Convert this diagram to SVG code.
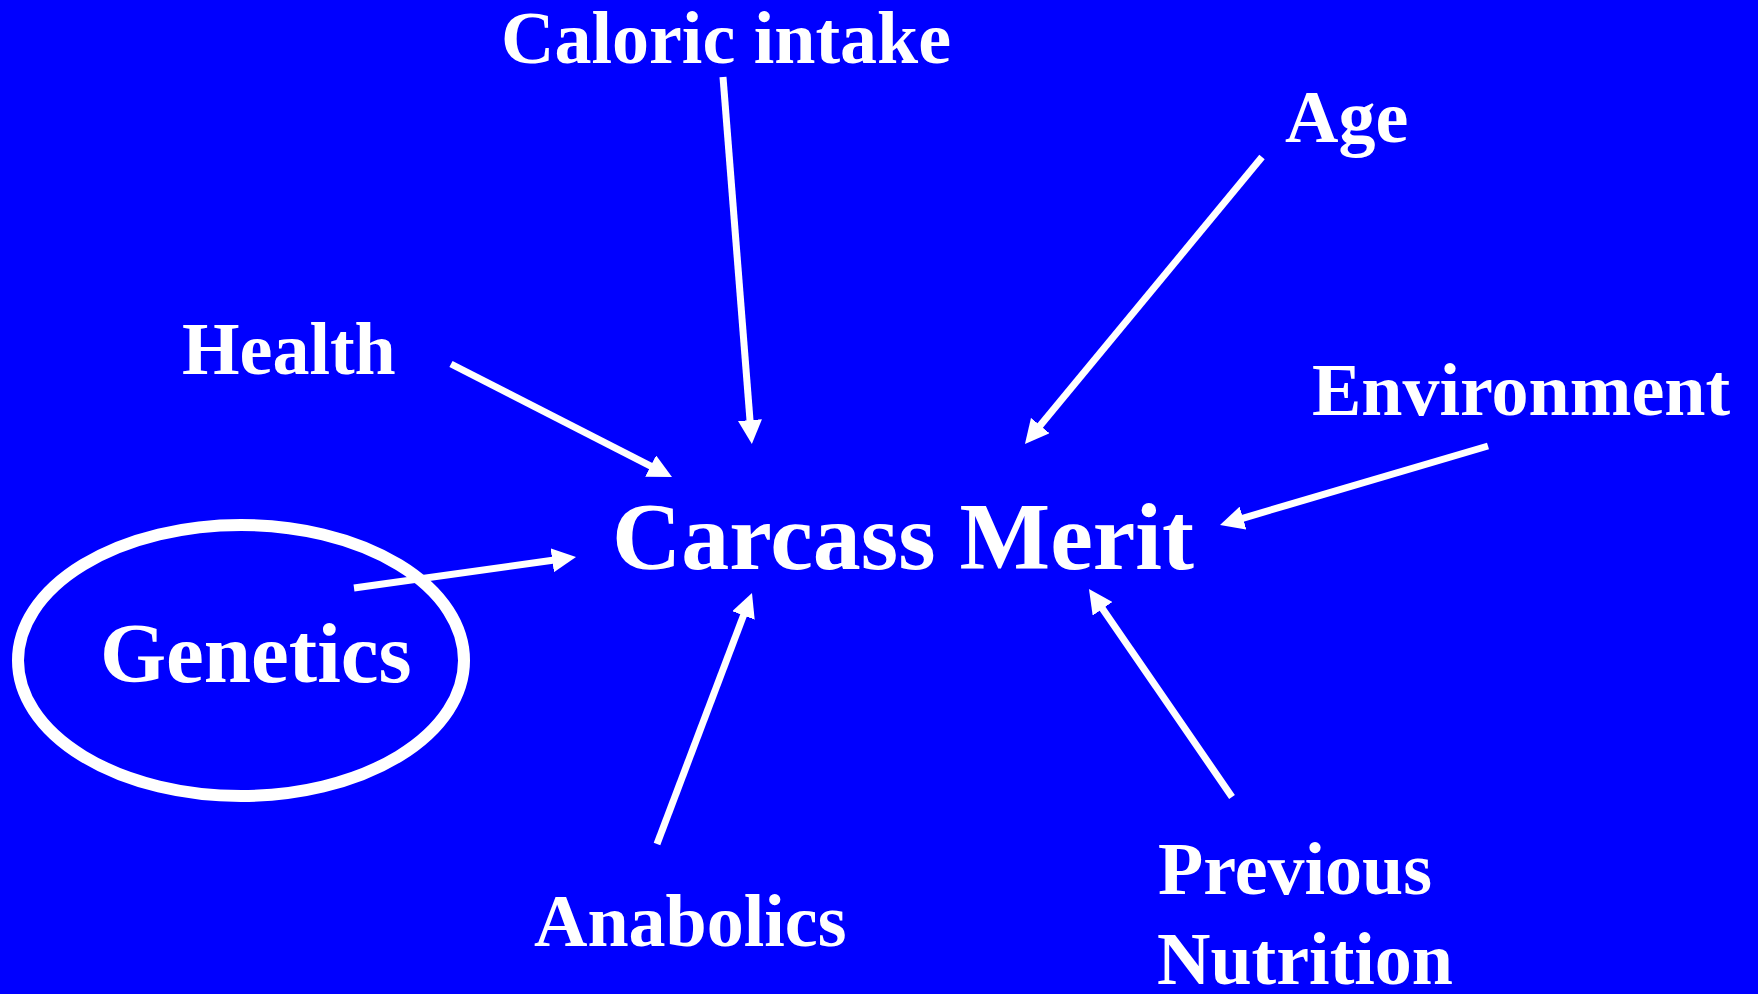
<svg xmlns="http://www.w3.org/2000/svg" width="1758" height="994" viewBox="0 0 1758 994">
<style>
.t{font-family:"Liberation Serif","Times New Roman",serif;font-weight:bold;fill:#fff}
.l{font-size:74px}
.c{stroke:#fff;stroke-width:7;fill:none;marker-end:url(#ah)}
</style>
<defs>
<marker id="ah" markerWidth="24" markerHeight="24" refX="4" refY="12" orient="auto" markerUnits="userSpaceOnUse"><path d="M0,0 L24,12 L0,24 z" fill="#fff"/></marker>
</defs>
<rect x="0" y="0" width="1758" height="994" fill="#0000FF"/>
<g id="connectors">
<line class="c" x1="723" y1="77" x2="750.3" y2="424.1"/>
<line class="c" x1="1262" y1="157" x2="1037.7" y2="428.6"/>
<line class="c" x1="451" y1="364" x2="654.2" y2="467.9"/>
<line class="c" x1="1488" y1="446" x2="1239.2" y2="519.3"/>
<line class="c" x1="354" y1="588" x2="556.2" y2="559.8"/>
<line class="c" x1="657" y1="844" x2="744.9" y2="611.7"/>
<line class="c" x1="1232" y1="797" x2="1100.3" y2="605.5"/>
</g>
<g id="carcass-merit"><text class="t" x="612" y="569" font-size="96">Carcass Merit</text></g>
<g id="caloric-intake"><text class="t l" x="501" y="63">Caloric intake</text></g>
<g id="age"><text class="t l" x="1285" y="142">Age</text></g>
<g id="health"><text class="t l" x="182" y="374">Health</text></g>
<g id="environment"><text class="t l" x="1312" y="415">Environment</text></g>
<g id="genetics"><ellipse cx="241" cy="660.5" rx="223" ry="135.5" fill="none" stroke="#fff" stroke-width="12"/><text class="t" x="100" y="682" font-size="85">Genetics</text></g>
<g id="anabolics"><text class="t l" x="534" y="946">Anabolics</text></g>
<g id="previous-nutrition"><text class="t l" x="1158" y="894">Previous</text><text class="t l" x="1157" y="984">Nutrition</text></g>
</svg>
